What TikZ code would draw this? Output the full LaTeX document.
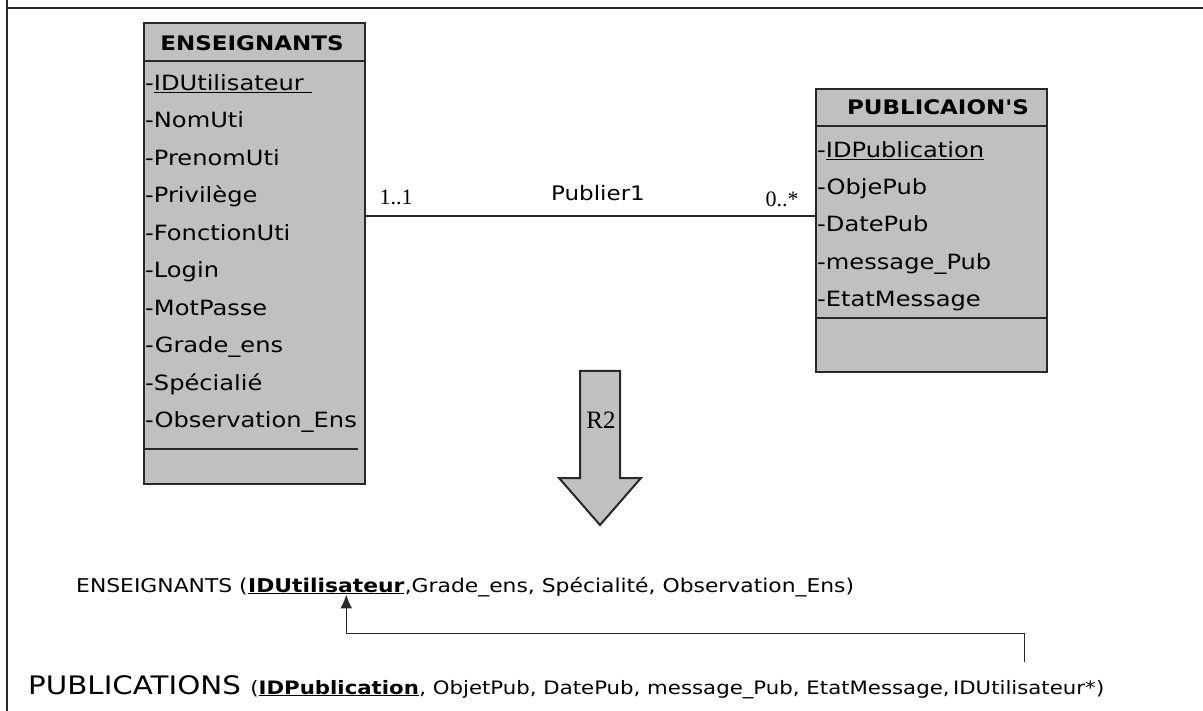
\documentclass[tikz,border=0pt]{standalone}
\usepackage{fontspec}
\setmainfont{DejaVu Sans}
\newfontfamily\comicfont[FakeStretch=1.15]{DejaVu Sans}
\newfontfamily\seriffont{Liberation Serif}
\usetikzlibrary{positioning,arrows.meta}

\definecolor{classgray}{RGB}{192,192,192}
\definecolor{boxline}{RGB}{40,40,40}

\tikzset{
  frameline/.style={draw=boxline, line width=2pt},
  classbox/.style={draw=boxline, line width=1.5pt, fill=classgray, anchor=north west, inner sep=0pt, outer sep=0pt},
  classline/.style={draw=boxline, line width=1.5pt},
  classtitle/.style={font=\comicfont\bfseries\fontsize{20}{20}\selectfont},
  attr/.style={anchor=base west, inner sep=0pt, font=\comicfont\fontsize{21}{21}\selectfont},
  assocline/.style={draw=boxline, line width=1.2pt},
  mult/.style={font=\seriffont\fontsize{22}{22}\selectfont},
  assocname/.style={font=\comicfont\fontsize{20}{20}\selectfont},
  bigarrow/.style={draw=boxline, line width=2pt, fill=classgray, line join=miter},
  r2label/.style={font=\seriffont\fontsize{25}{25}\selectfont},
  reltext/.style={inner sep=0pt, font=\comicfont\fontsize{19}{19}\selectfont},
  pubtext/.style={inner sep=0pt, font=\comicfont\fontsize{18.5}{18.5}\selectfont},
  pubtitle/.style={inner sep=0pt, font=\comicfont\fontsize{25.5}{25.5}\selectfont},
  fkarrow/.style={draw=boxline, line width=1.5pt, -{Latex[length=14pt,width=12pt]}}
}

\begin{document}
\begin{tikzpicture}[x=1pt, y=-1pt]
  \useasboundingbox (0,0) rectangle (1203,711);
  \draw[frameline] (7,0) -- (7,711);
  \draw[frameline] (7,8) -- (1203,8);

  % classe ENSEIGNANTS
  \node[classbox, minimum width=221pt, minimum height=461pt] (ens) at (144,23) {};
  \draw[classline] (144,61) -- (365,61);
  \draw[classline] (144,449) -- (358,449);
  \node[classtitle] (ens-title) at (252,43) {ENSEIGNANTS};
  \foreach \attr [count=\i] in {{\underline{IDUtilisateur~}}, NomUti, PrenomUti, Privilège,
      FonctionUti, Login, MotPasse, Grade\_ens, Spécialié, Observation\_Ens}
    \node[attr] (ens-\i) at (145,{53+37.5*\i}) {-\attr};

  % classe PUBLICAION'S
  \node[classbox, minimum width=231pt, minimum height=283pt] (pub) at (816,89) {};
  \draw[classline] (816,126) -- (1047,126);
  \draw[classline] (816,318) -- (1047,318);
  \node[classtitle] (pub-title) at (938,107) {PUBLICAION'S};
  \foreach \attr [count=\i] in {{\underline{IDPublication}}, ObjePub, DatePub, message\_Pub, EtatMessage}
    \node[attr] (pub-\i) at (817,{120+37.3*\i}) {-\attr};

  % association
  \coordinate (assoc) at (0,216);
  \draw[assocline] (ens.east |- assoc) -- (pub.west |- assoc);
  \node[mult] (mult-ens) at (396,197) {1..1};
  \node[mult] (mult-pub) at (782,199) {0..*};
  \node[assocname] (publier) at (598,193) {Publier1};

  % passage R2
  \draw[bigarrow] (580,371) -- (620,371) -- (620,478) -- (641,478) -- (600,525)
    -- (559,478) -- (580,478) -- cycle;
  \node[r2label] (r2) at (601,420) {R2};

  % modele relationnel
  \node[reltext, anchor=base west] (ens-rel) at (76,592) {ENSEIGNANTS (};
  \node[reltext, base right=0pt of ens-rel] (ens-key) {\underline{\textbf{IDUtilisateur}}};
  \node[reltext, base right=0pt of ens-key] (ens-rest) {,Grade\_ens, Spécialité, Observation\_Ens)};

  \node[pubtitle, anchor=base west] (pub-rel) at (28,694) {PUBLICATIONS};
  \node[pubtext, base right=9pt of pub-rel] (pub-key) {(\underline{\textbf{IDPublication}}};
  \node[pubtext, base right=0pt of pub-key] (pub-rest) {, ObjetPub, DatePub, message\_Pub, EtatMessage,};
  \node[pubtext, base right=3pt of pub-rest] (pub-fk) {IDUtilisateur*};
  \node[pubtext, base right=0pt of pub-fk] (pub-end) {)};

  \draw[fkarrow] ([yshift=18pt]pub-fk.north) -- ([yshift=46pt]pub-fk.north)
    -| ([xshift=20pt]ens-key.south);
\end{tikzpicture}
\end{document}
